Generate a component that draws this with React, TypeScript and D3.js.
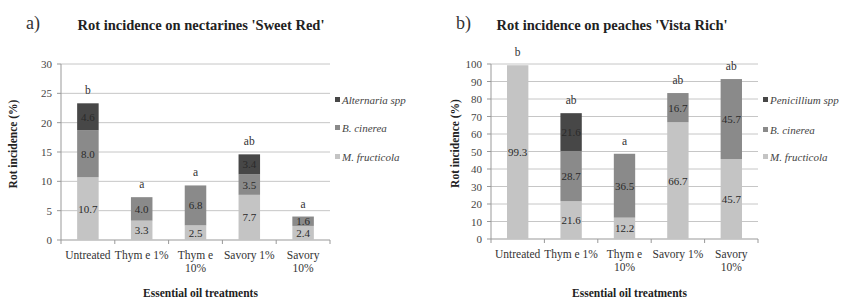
import React from "react";
import * as d3 from "d3";

const categories = ["Untreated", "Thym e 1%", "Thym e 10%", "Savory 1%", "Savory 10%"];
const labelLines = [["Untreated"], ["Thym e 1%"], ["Thym e", "10%"], ["Savory 1%"], ["Savory", "10%"]];

// panel a: nectarines 'Sweet Red'
const nectMfructicola = [10.7, 3.3, 2.5, 7.7, 2.4];
const nectBcinerea = [8.0, 4.0, 6.8, 3.5, 1.6];
const nectAlternaria = [4.6, 0, 0, 3.4, 0];
const nectLetters = ["b", "a", "a", "ab", "a"];
const nectTicks = [0, 5, 10, 15, 20, 25, 30];

// panel b: peaches 'Vista Rich'
const peachMfructicola = [99.3, 21.6, 12.2, 66.7, 45.7];
const peachBcinerea = [0, 28.7, 36.5, 16.7, 45.7];
const peachPenicillium = [0, 21.6, 0, 0, 0];
const peachLetters = ["b", "ab", "a", "ab", "ab"];
const peachTicks = [0, 10, 20, 30, 40, 50, 60, 70, 80, 90, 100];

const colors = ["#c4c4c4", "#8a8a8a", "#474747"];
const serif = "Liberation Serif";

type Series = { name: string; values: number[] };

interface PanelProps {
  ox: number;
  tag: string;
  title: string;
  titleX: number;
  series: Series[];
  letters: string[];
  ticks: number[];
  x0: number;
  x1: number;
  yBottom: number;
  yTop: number;
  ytitleX: number;
  legendX: number;
  legendY: number[];
}

const Panel = ({ ox, tag, title, titleX, series, letters, ticks, x0, x1, yBottom, yTop, ytitleX, legendX, legendY }: PanelProps) => {
  const x = d3.scaleBand<string>().domain(categories).range([x0, x1]).paddingInner(0.6).paddingOuter(0.3);
  const y = d3.scaleLinear().domain([0, ticks[ticks.length - 1]]).range([yBottom, yTop]);

  const rows = categories.map((c, i) => {
    const o: any = { cat: c };
    series.forEach((s) => (o[s.name] = s.values[i]));
    return o;
  });
  const stacked = d3.stack<any>().keys(series.map((s) => s.name))(rows);
  const totals = categories.map((_, i) => d3.sum(series, (s) => s.values[i]));
  const step = x.step();

  return (
    <g transform={`translate(${ox},0)`} style={{ fontFamily: serif }}>
      <text x={26} y={29} fontSize={18} fill="#333">{tag}</text>
      <text x={titleX} y={30} fontSize={14.5} fontWeight="bold" textAnchor="middle" fill="#222">{title}</text>
      {ticks.map((t) => (
        <g key={t}>
          {t > 0 && <line x1={x0} x2={x1} y1={y(t)} y2={y(t)} stroke="#c6c6c6" />}
          <line x1={x0 - 4} x2={x0} y1={y(t)} y2={y(t)} stroke="#999" />
          <text x={x0 - 9} y={y(t) + 4} fontSize={11} textAnchor="end" fill="#444">{t}</text>
        </g>
      ))}
      <line x1={x0} x2={x0} y1={yTop} y2={yBottom} stroke="#999" />
      <line x1={x0} x2={x1} y1={yBottom} y2={yBottom} stroke="#999" />
      {d3.range(categories.length + 1).map((i) => (
        <line key={i} x1={x0 + i * step} x2={x0 + i * step} y1={yBottom} y2={yBottom + 4} stroke="#999" />
      ))}
      {stacked.map((layer, li) =>
        layer.map((d, i) => {
          const v = d[1] - d[0];
          if (v <= 0) return null;
          const bx = x(categories[i]) as number;
          return (
            <g key={`${li}-${i}`}>
              <rect x={bx} y={y(d[1])} width={x.bandwidth()} height={y(d[0]) - y(d[1])} fill={colors[li]} />
              <text x={bx + x.bandwidth() / 2} y={y((d[0] + d[1]) / 2) + 4} fontSize={11} textAnchor="middle" fill="#2a2a2a">
                {v.toFixed(1)}
              </text>
            </g>
          );
        })
      )}
      {letters.map((l, i) => (
        <text key={i} x={(x(categories[i]) as number) + x.bandwidth() / 2} y={y(totals[i]) - 9} fontSize={11.5} textAnchor="middle" fill="#333">
          {l}
        </text>
      ))}
      {labelLines.map((lines, i) => (
        <text key={i} x={(x(categories[i]) as number) + x.bandwidth() / 2} fontSize={11.5} textAnchor="middle" fill="#333">
          {lines.map((ln, j) => (
            <tspan key={j} x={(x(categories[i]) as number) + x.bandwidth() / 2} y={yBottom + 19 + j * 13}>{ln}</tspan>
          ))}
        </text>
      ))}
      <text x={(x0 + x1) / 2 + 5} y={297} fontSize={11.5} fontWeight="bold" textAnchor="middle" fill="#222">Essential oil treatments</text>
      <text transform={`translate(${ytitleX},${(yTop + yBottom) / 2 - 8}) rotate(-90)`} fontSize={11.5} fontWeight="bold" textAnchor="middle" fill="#222">
        Rot incidence (%)
      </text>
      {series.slice().reverse().map((s, k) => {
        const ci = series.length - 1 - k;
        return (
          <g key={s.name}>
            <rect x={legendX} y={legendY[k] - 3} width={5} height={5} fill={colors[ci]} />
            <text x={legendX + 7} y={legendY[k] + 3.5} fontSize={11} fontStyle="italic" fill="#444">{s.name}</text>
          </g>
        );
      })}
    </g>
  );
};

const App = () => (
  <svg width={852} height={298} style={{ position: "absolute", left: 0, top: 0, background: "#fff" }}>
    <Panel
      ox={0}
      tag="a)"
      title="Rot incidence on nectarines 'Sweet Red'"
      titleX={201}
      series={[
        { name: "M. fructicola", values: nectMfructicola },
        { name: "B. cinerea", values: nectBcinerea },
        { name: "Alternaria spp", values: nectAlternaria },
      ]}
      letters={nectLetters}
      ticks={nectTicks}
      x0={61}
      x1={330}
      yBottom={240}
      yTop={64}
      ytitleX={17}
      legendX={335}
      legendY={[100, 128, 157]}
    />
    <Panel
      ox={430}
      tag="b)"
      title="Rot incidence on peaches 'Vista Rich'"
      titleX={182}
      series={[
        { name: "M. fructicola", values: peachMfructicola },
        { name: "B. cinerea", values: peachBcinerea },
        { name: "Penicillium spp", values: peachPenicillium },
      ]}
      letters={peachLetters}
      ticks={peachTicks}
      x0={61}
      x1={328}
      yBottom={239}
      yTop={64}
      ytitleX={29}
      legendX={333}
      legendY={[100, 130, 157]}
    />
  </svg>
);

export default App;
